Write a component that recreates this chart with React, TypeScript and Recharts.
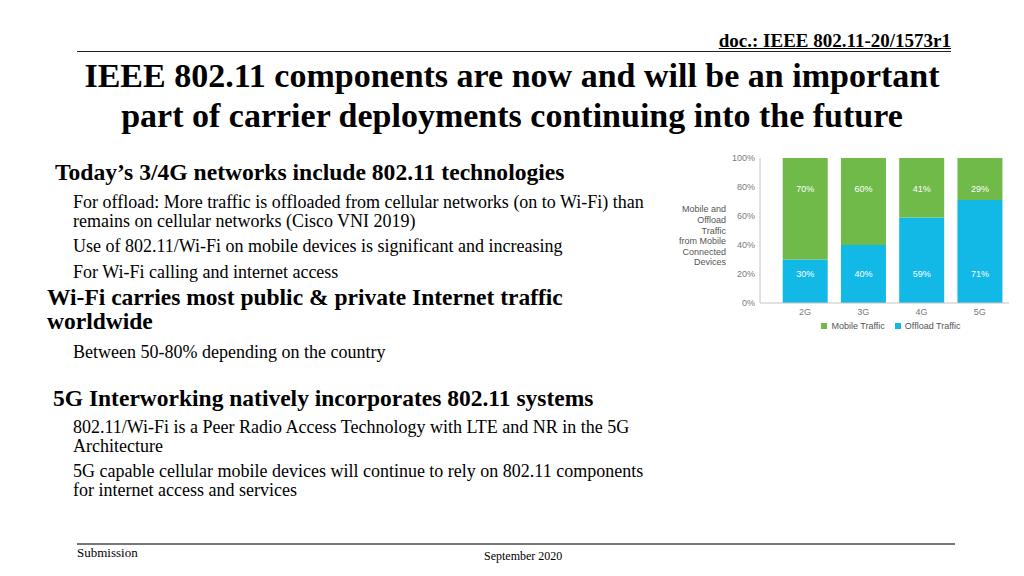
import React from "react";
import {
  BarChart,
  Bar,
  XAxis,
  YAxis,
  Legend,
  LabelList,
} from "recharts";

// chart values (Cisco VNI 2019)
const generations = ["2G", "3G", "4G", "5G"];
const offloadShare = [30, 40, 59, 71];
const mobileShare = [70, 60, 41, 29];
const yTicks = [0, 20, 40, 60, 80, 100];
const yTitleLines = [
  "Mobile and",
  "Offload",
  "Traffic",
  "from Mobile",
  "Connected",
  "Devices",
];
const legendOrder = ["Mobile Traffic", "Offload Traffic"];

const MOBILE = "#6fba48";
const OFFLOAD = "#13b9e6";
const AXIS = "#c4c4c4";
const TICK = "#7a7a7a";
const SANS = "'Liberation Sans', Arial, sans-serif";
const SERIF = "'Liberation Serif', 'Times New Roman', serif";

const data = generations.map((gen, i) => ({
  gen,
  offload: offloadShare[i],
  mobile: mobileShare[i],
}));

// slide text: [text, left, baseline, size, bold]
type Line = [string, number, number, number, boolean];
const bodyLines: Line[] = [
  ["Today\u2019s 3/4G networks include 802.11 technologies", 55, 181, 23.6, true],
  ["For offload: More traffic is offloaded from cellular networks (on to Wi-Fi) than", 73, 208, 18, false],
  ["remains on cellular networks (Cisco VNI 2019)", 73, 227, 18, false],
  ["Use of 802.11/Wi-Fi on mobile devices is significant and increasing", 73, 252, 18, false],
  ["For Wi-Fi calling and internet access", 73, 278, 18, false],
  ["Wi-Fi carries most public & private Internet traffic", 47, 306, 23.5, true],
  ["worldwide", 47, 330, 23.5, true],
  ["Between 50-80% depending on the country", 73, 358, 18, false],
  ["5G Interworking natively incorporates 802.11 systems", 53, 407, 23.5, true],
  ["802.11/Wi-Fi is a Peer Radio Access Technology with LTE and NR in the 5G", 73, 433, 18, false],
  ["Architecture", 73, 452, 18, false],
  ["5G capable cellular mobile devices will continue to rely on 802.11 components", 73, 477, 18, false],
  ["for internet access and services", 73, 496, 18, false],
];

function TextLine({ line }: { line: Line }) {
  const [text, left, baseline, size, bold] = line;
  return (
    <div
      style={{
        position: "absolute",
        left,
        top: baseline - 0.84 * size,
        fontSize: size,
        lineHeight: `${size}px`,
        fontWeight: bold ? 700 : 400,
        whiteSpace: "nowrap",
        color: "#000",
      }}
    >
      {text}
    </div>
  );
}

function YTitle(props: any) {
  const vb = props.viewBox || { x: 0, y: 0, width: 90, height: 145 };
  const cy = vb.y + vb.height / 2 + 6;
  const step = 10.6;
  const y0 = cy - ((yTitleLines.length - 1) / 2) * step;
  return (
    <text
      x={vb.x + 56}
      y={y0}
      textAnchor="end"
      fontSize={9}
      fill="#555"
      fontFamily={SANS}
    >
      {yTitleLines.map((l, i) => (
        <tspan key={l} x={vb.x + 56} y={y0 + i * step} dominantBaseline="middle">
          {l}
        </tspan>
      ))}
    </text>
  );
}

function LegendRow({ payload }: any) {
  const items = legendOrder
    .map((name) => (payload || []).find((p: any) => p.value === name))
    .filter(Boolean);
  return (
    <div
      style={{
        display: "flex",
        justifyContent: "center",
        gap: 10,
        fontFamily: SANS,
        fontSize: 9,
        color: "#555",
        lineHeight: "14px",
      }}
    >
      {items.map((it: any) => (
        <div key={it.value} style={{ display: "flex", alignItems: "center", gap: 4 }}>
          <span style={{ width: 6, height: 6, background: it.color, display: "inline-block" }} />
          {it.value}
        </div>
      ))}
    </div>
  );
}

function TrafficChart() {
  return (
    <BarChart
      width={345}
      height={195}
      data={data}
      margin={{ top: 13, right: 6, left: 0, bottom: 7 }}
      barCategoryGap="11.5%"
    >
      <XAxis
        dataKey="gen"
        height={16}
        tickLine={false}
        tickSize={4}
        axisLine={{ stroke: AXIS }}
        tick={{ fontSize: 9, fill: TICK, fontFamily: SANS }}
        padding={{ left: 16, right: 0 }}
      />
      <YAxis
        width={90}
        domain={[0, 100]}
        ticks={yTicks}
        tickFormatter={(v) => `${v}%`}
        tickLine={false}
        tickSize={3}
        tickMargin={2}
        axisLine={{ stroke: AXIS }}
        tick={{ fontSize: 9, fill: TICK, fontFamily: SANS }}
        label={<YTitle />}
      />
      <Legend
        verticalAlign="bottom"
        height={14}
        content={<LegendRow />}
        wrapperStyle={{ left: 96, width: 250 }}
      />
      <Bar
        dataKey="offload"
        name="Offload Traffic"
        stackId="a"
        fill={OFFLOAD}
        isAnimationActive={false}
      >
        <LabelList
          dataKey="offload"
          content={(p: any) => (
            <text
              x={p.x + p.width / 2}
              y={p.y + p.height - 28}
              textAnchor="middle"
              dominantBaseline="middle"
              fontSize={9}
              fill="#fff"
              fontFamily={SANS}
            >
              {`${p.value}%`}
            </text>
          )}
        />
      </Bar>
      <Bar
        dataKey="mobile"
        name="Mobile Traffic"
        stackId="a"
        fill={MOBILE}
        isAnimationActive={false}
      >
        <LabelList
          dataKey="mobile"
          content={(p: any) => (
            <text
              x={p.x + p.width / 2}
              y={p.y + 32}
              textAnchor="middle"
              dominantBaseline="middle"
              fontSize={9}
              fill="#fff"
              fontFamily={SANS}
            >
              {`${p.value}%`}
            </text>
          )}
        />
      </Bar>
    </BarChart>
  );
}

export default function App() {
  return (
    <div
      style={{
        position: "absolute",
        left: 0,
        top: 0,
        width: 1024,
        height: 576,
        background: "#fff",
        fontFamily: SERIF,
        overflow: "hidden",
      }}
    >
      {/* header */}
      <div
        style={{
          position: "absolute",
          right: 73,
          top: 47 - 0.84 * 19,
          fontSize: 19,
          lineHeight: "19px",
          fontWeight: 700,
          textDecoration: "underline",
          whiteSpace: "nowrap",
        }}
      >
        doc.: IEEE 802.11-20/1573r1
      </div>
      <div
        style={{ position: "absolute", left: 77, top: 51, width: 874, height: 1, background: "#222" }}
      />

      {/* title */}
      {[
        ["IEEE 802.11 components are now and will be an important", 88],
        ["part of carrier deployments continuing into the future", 128],
      ].map(([t, b]) => (
        <div
          key={t as string}
          style={{
            position: "absolute",
            left: 0,
            width: 1024,
            textAlign: "center",
            top: (b as number) - 0.84 * 34,
            fontSize: 34,
            lineHeight: "34px",
            fontWeight: 700,
            whiteSpace: "nowrap",
          }}
        >
          {t}
        </div>
      ))}

      {bodyLines.map((l) => (
        <TextLine key={l[0]} line={l} />
      ))}

      {/* chart */}
      <div style={{ position: "absolute", left: 670, top: 145, width: 345, height: 195 }}>
        <TrafficChart />
      </div>

      {/* footer */}
      <div
        style={{ position: "absolute", left: 77, top: 543, width: 878, height: 2, background: "#777" }}
      />
      <div
        style={{ position: "absolute", left: 77, top: 546, fontSize: 13, lineHeight: "13px", whiteSpace: "nowrap" }}
      >
        Submission
      </div>
      <div
        style={{ position: "absolute", left: 484, top: 550, fontSize: 12, lineHeight: "12px", whiteSpace: "nowrap" }}
      >
        September 2020
      </div>
    </div>
  );
}
